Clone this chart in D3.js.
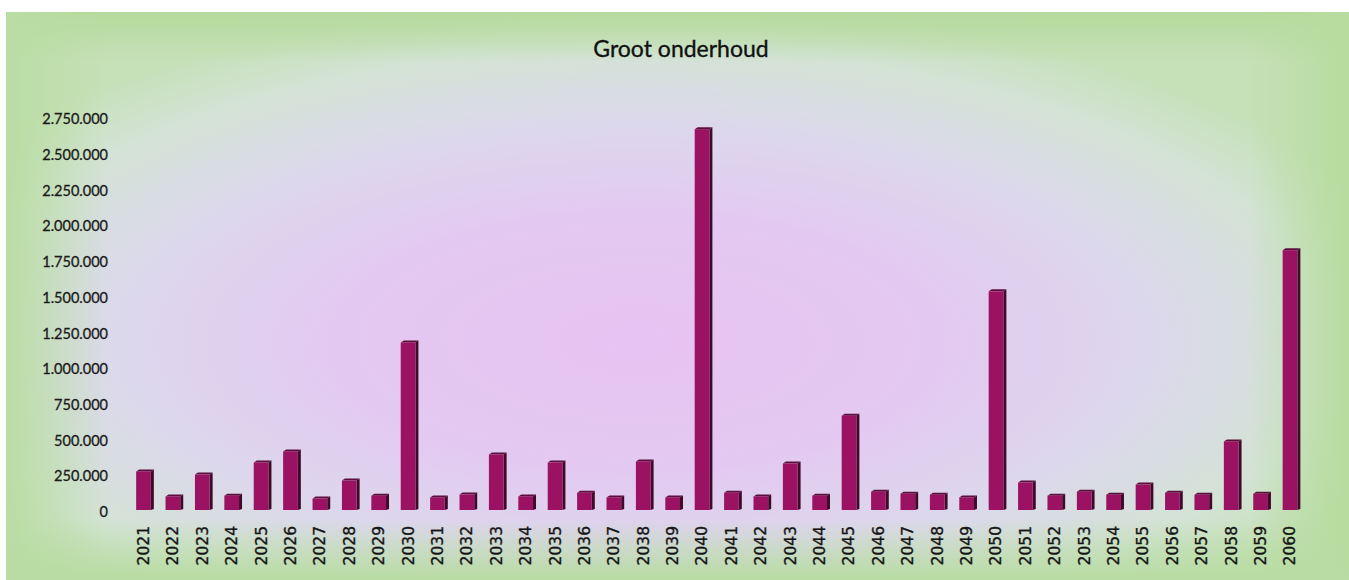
<!DOCTYPE html>
<html>
<head>
<meta charset="utf-8">
<script src="https://cdn.jsdelivr.net/npm/d3@7"></script>
<style>
  html, body { margin: 0; padding: 0; background: #fff; }
  svg { display: block; }
</style>
</head>
<body>
<svg id="chart" width="1349" height="580"></svg>
<script>
// Jaarlijkse kosten groot onderhoud (euro)
const years = ["2021","2022","2023","2024","2025","2026","2027","2028","2029","2030",
               "2031","2032","2033","2034","2035","2036","2037","2038","2039","2040",
               "2041","2042","2043","2044","2045","2046","2047","2048","2049","2050",
               "2051","2052","2053","2054","2055","2056","2057","2058","2059","2060"];
const costs = [270000, 95000, 248000, 100000, 332000, 410000, 80000, 206000, 100000, 1172000,
               88000, 108000, 388000, 95000, 332000, 120000, 88000, 340000, 88000, 2665000,
               120000, 95000, 325000, 100000, 660000, 128000, 114000, 107000, 88000, 1530000,
               192000, 100000, 128000, 107000, 178000, 120000, 107000, 480000, 114000, 1818000];
const yTicks = [0, 250000, 500000, 750000, 1000000, 1250000, 1500000, 1750000,
                2000000, 2250000, 2500000, 2750000];
const title = "Groot onderhoud";

const svg = d3.select("#chart");
const W = 1349, H = 580;
const frame = { x: 6, y: 12, w: W - 6, h: H - 12 };

const defs = svg.append("defs");

// Achtergrond: lila midden dat naar een groene rand verloopt
const rg = defs.append("radialGradient")
  .attr("id", "bg").attr("cx", "0.47").attr("cy", "0.58").attr("r", "0.6");
[[0, "#e7c3f2"], [0.38, "#e3c9f1"], [0.64, "#dcd8ec"], [0.86, "#d3e3d4"], [1, "#c6e0b8"]]
  .forEach(([o, c]) => rg.append("stop").attr("offset", o).attr("stop-color", c));

function edge(id, x1, y1, x2, y2, color) {
  const g = defs.append("linearGradient").attr("id", id)
    .attr("x1", x1).attr("y1", y1).attr("x2", x2).attr("y2", y2);
  g.append("stop").attr("offset", 0).attr("stop-color", color).attr("stop-opacity", 1);
  g.append("stop").attr("offset", 1).attr("stop-color", color).attr("stop-opacity", 0);
}
edge("topEdge", 0, 0, 0, 1, "#b4da9c");
edge("leftEdge", 0, 0, 1, 0, "#b9dda3");
edge("rightEdge", 1, 0, 0, 0, "#b6dc9e");
edge("botEdge", 0, 1, 0, 0, "#b8dca2");

svg.append("rect").attr("x", frame.x).attr("y", frame.y)
  .attr("width", frame.w).attr("height", frame.h).attr("fill", "url(#bg)");
svg.append("rect").attr("x", frame.x).attr("y", frame.y)
  .attr("width", frame.w).attr("height", 50).attr("fill", "url(#topEdge)");
svg.append("rect").attr("x", frame.x).attr("y", frame.y)
  .attr("width", 100).attr("height", frame.h).attr("fill", "url(#leftEdge)");
svg.append("rect").attr("x", W - 100).attr("y", frame.y)
  .attr("width", 100).attr("height", frame.h).attr("fill", "url(#rightEdge)");
svg.append("rect").attr("x", frame.x).attr("y", H - 60)
  .attr("width", frame.w).attr("height", 60).attr("fill", "url(#botEdge)");

// Schalen
const x = d3.scaleBand().domain(years).range([128.8, 1304.7]).paddingInner(0.5).paddingOuter(0.25);
const y = d3.scaleLinear().domain([0, 2750000]).range([510, 117]);

const nl = d3.formatLocale({ decimal: ",", thousands: ".", grouping: [3], currency: ["€", ""] });
const fmt = nl.format(",d");

// Titel
svg.append("text")
  .attr("x", 681).attr("y", 57)
  .attr("text-anchor", "middle")
  .attr("font-family", "Lato, 'Open Sans', sans-serif")
  .attr("font-size", 23)
  .attr("fill", "#111")
  .attr("stroke", "#111").attr("stroke-width", 0.35)
  .text(title);

// Y-as
const yAxis = d3.axisLeft(y).tickValues(yTicks).tickFormat(fmt).tickSize(0).tickPadding(0);
const gy = svg.append("g").attr("transform", "translate(108,2)").call(yAxis);
gy.select(".domain").remove();
gy.selectAll("text")
  .attr("font-family", "Lato, 'Liberation Sans', sans-serif")
  .attr("font-size", 14.5)
  .attr("fill", "#1a1a1a")
  .attr("stroke", "#1a1a1a").attr("stroke-width", 0.3);

// X-as
const xAxis = d3.axisBottom(x).tickSize(0).tickPadding(0);
const gx = svg.append("g").attr("transform", "translate(0,526)").call(xAxis);
gx.select(".domain").remove();
gx.selectAll("text")
  .attr("font-family", "'DejaVu Sans', Verdana, sans-serif")
  .attr("font-size", 15.5)
  .attr("fill", "#151515")
  .attr("stroke", "#151515").attr("stroke-width", 0.35)
  .attr("text-anchor", "end")
  .attr("transform", "rotate(-90)")
  .attr("x", 0).attr("y", 0).attr("dx", 0).attr("dy", "0.35em");

// Kolommen met diepte
const depth = 3;
const bars = svg.append("g").selectAll("g").data(years.map((yr, i) => ({ yr, v: costs[i] })))
  .join("g");
const bw = x.bandwidth();

bars.append("path")
  .attr("fill", "#3d0a2a")
  .attr("d", d => {
    const x0 = x(d.yr) + bw, yt = y(d.v), yb = y(0);
    return `M${x0},${yt}L${x0 + depth},${yt - depth + 1}L${x0 + depth},${yb - 1}L${x0},${yb}Z`;
  });
bars.append("path")
  .attr("fill", "#5c0f3c")
  .attr("d", d => {
    const x0 = x(d.yr), yt = y(d.v);
    return `M${x0},${yt}L${x0 + depth},${yt - depth + 1}L${x0 + bw + depth},${yt - depth + 1}L${x0 + bw},${yt}Z`;
  });
bars.append("rect")
  .attr("x", d => x(d.yr))
  .attr("y", d => y(d.v))
  .attr("width", bw)
  .attr("height", d => y(0) - y(d.v))
  .attr("fill", "#9a1261");
</script>
</body>
</html>
